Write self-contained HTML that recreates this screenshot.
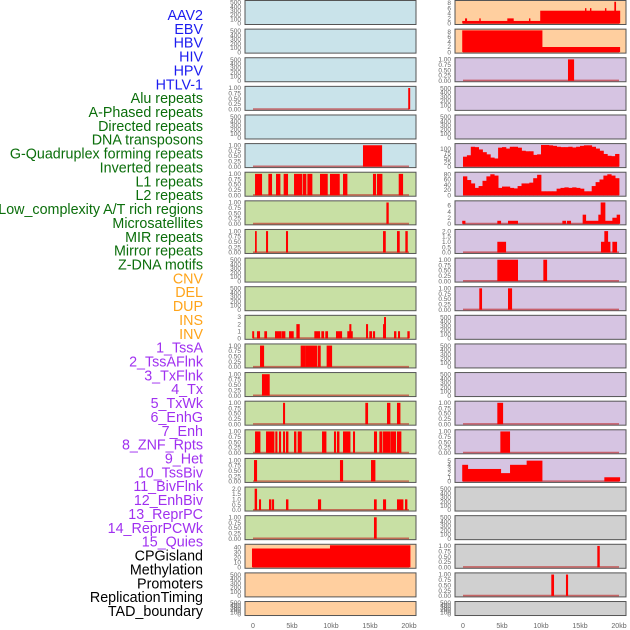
<!DOCTYPE html>
<html><head><meta charset="utf-8"><style>
html,body{margin:0;padding:0;background:#fff;width:630px;height:630px;overflow:hidden}
svg{display:block;font-family:"Liberation Sans",sans-serif}
</style></head><body>
<svg id="chart" width="630" height="630" viewBox="0 0 630 630" xmlns="http://www.w3.org/2000/svg"></svg>
<script>
const trackLabels = ["AAV2","EBV","HBV","HIV","HPV","HTLV-1","Alu repeats","A-Phased repeats","Directed repeats","DNA transposons","G-Quadruplex forming repeats","Inverted repeats","L1 repeats","L2 repeats","Low_complexity A/T rich regions","Microsatellites","MIR repeats","Mirror repeats","Z-DNA motifs","CNV","DEL","DUP","INS","INV","1_TssA","2_TssAFlnk","3_TxFlnk","4_Tx","5_TxWk","6_EnhG","7_Enh","8_ZNF_Rpts","9_Het","10_TssBiv","11_BivFlnk","12_EnhBiv","13_ReprPC","14_ReprPCWk","15_Quies","CPGisland","Methylation","Promoters","ReplicationTiming","TAD_boundary"];
const trackGroups = ["v","v","v","v","v","v","r","r","r","r","r","r","r","r","r","r","r","r","r","s","s","s","s","s","c","c","c","c","c","c","c","c","c","c","c","c","c","c","c","o","o","o","o","o"];
const xTicks = [0,5,10,15,20];
const xTickLabels = ["0","5kb","10kb","15kb","20kb"];
const E = [0,100,200,300,400,500], U = [0,0.25,0.5,0.75,1];
const leftBgs = ["b","b","b","b","b","b","g","g","g","g","g","g","g","g","g","g","g","g","g","o","o","o"];
const rightBgs = ["o","o","p","p","p","p","p","p","p","p","p","p","p","p","p","p","p","g2","g2","g2","g2","g2"];
const leftTicks = [E,E,E,U,E,U,U,U,U,E,E,[0,1,2,3],U,U,U,U,U,[0,0.5,1,1.5,2],U,[0,10,20,30,40],E,E];
const rightTicks = [[0,2,4,6,8],[0,2,4,6,8],U,E,E,[0,25,50,75,100],[0,20,40,60,80],[0,2,4,6],[0,0.5,1,1.5,2],U,U,E,E,E,U,U,[0,1,2,3,4,5],E,E,U,U,E];
const leftYmax = [520,520,520,1.03,520,1.03,1.03,1.03,1.03,520,520,3.1,1.03,1.03,1.03,1.03,1.03,2.06,1.03,44.5,520,520];
const rightYmax = [8.6,8.6,1.03,520,520,122,84,7.2,2.06,1.03,1.03,520,520,520,1.03,1.03,5.3,520,520,1.03,1.03,520];
const profile100 = [55,63,110,108,95,80,68,50,45,105,108,100,110,110,105,88,85,85,65,68,120,120,118,115,110,108,108,110,106,110,115,118,118,110,100,88,70,60,58,70];
const profile80 = [72,58,45,28,35,55,72,80,75,28,33,33,28,26,35,45,45,48,65,78,15,15,15,15,25,28,30,28,30,28,25,15,15,35,50,60,75,80,75,65];
const leftSegs = [
 [],[],[],
 [[19.9,20.1,1]],
 [],
 [[14.1,16.5,1]],
 [[0.26,1.11,1],[1.97,2.39,1],[2.95,3.46,1],[3.93,4.44,1],[5.26,6.28,1],[6.41,6.79,1],[6.97,7.56,1],[8.59,9.53,1],[9.87,11.07,1],[11.54,12.05,1],[15.38,15.73,1],[15.9,16.54,1],[18.68,19.19,1]],
 [[17.1,17.35,1]],
 [[0.26,0.43,1],[1.67,1.88,1],[4.23,4.44,1],[16.67,16.97,1],[18.46,18.76,1],[19.53,19.79,1]],
 [],[],
 [[-0.1,0.1,1],[0.51,0.85,1],[1.45,1.75,1],[2.82,3.59,1],[3.68,4.1,1],[4.62,5.17,1],[5.56,5.94,2],[7.86,8.55,1],[8.76,9.06,1],[9.27,9.57,1],[10.64,11.37,1],[12.09,12.35,1],[12.35,12.56,2],[12.56,12.74,1],[14.49,14.7,2],[14.91,15.21,1],[15.38,15.6,1],[16.67,16.84,2],[16.8,17.0,3],[18.08,18.33,1],[18.59,18.8,1],[19.79,20.04,1]],
 [[0.9,1.37,1],[6.11,6.71,1],[6.75,8.16,1],[8.29,8.63,1],[9.44,10.09,1]],
 [[1.15,2.09,1]],
 [[3.85,4.06,1],[14.4,14.7,1],[17.18,17.56,1],[18.46,18.85,1]],
 [[0.26,0.9,1],[1.67,2.69,1],[2.86,3.08,1],[3.33,3.55,1],[3.85,4.06,1],[4.23,4.49,1],[5.26,5.51,1],[5.73,6.2,1],[8.85,9.36,1],[10.38,10.6,1],[10.77,11.03,1],[11.54,12.44,1],[12.82,13.03,1],[15.51,15.85,1],[16.2,16.54,1],[16.67,17.61,1],[17.69,18.29,1],[18.46,18.97,1]],
 [[0.13,0.47,1],[11.15,11.5,1],[15.13,15.64,1]],
 [[0.21,0.47,2],[0.77,0.98,1],[2.05,2.31,1],[2.44,2.65,1],[4.23,4.49,1],[8.33,8.68,1],[15.51,15.81,1],[16.67,17.01,1],[18.46,19.23,1],[19.49,19.74,1]],
 [[15.51,15.81,1]],
 [[-0.13,9.87,38],[9.87,20.13,44.5]],
 [],[]
];
const rightSegs = [
 [[-0.1,9.9,1],[9.9,20.1,5],[0.26,0.47,2],[2.09,2.22,2],[5.68,6.45,2],[8.46,8.59,2],[15.64,15.77,6],[16.28,16.41,6],[18.2,18.33,6],[19.4,19.57,8.5]],
 [[-0.1,10.13,8.5],[10.13,20.09,2]],
 [[13.46,14.19,1]],
 [],[],
 profile100.map((v,i)=>[i*0.5,i*0.5+0.5,v]),
 profile80.map((v,i)=>[i*0.5,i*0.5+0.5,v]),
 [[-0.1,0.26,1],[4.4,4.83,1],[5.77,7.0,1],[12.74,13.16,1],[13.33,13.8,1],[15.34,15.73,3],[15.73,17.35,1],[17.35,17.65,3],[17.65,18.2,7],[18.2,19.15,1],[19.15,19.7,2],[19.7,20.09,3]],
 [[4.4,5.47,1],[17.69,18.12,1],[18.12,18.55,2],[18.55,18.85,1],[19.15,19.7,1]],
 [[4.4,7.0,1],[10.3,10.73,1]],
 [[2.09,2.39,1],[5.77,6.24,1]],
 [],[],[],
 [[4.4,5.09,1]],
 [[4.79,5.98,1]],
 [[-0.1,0.6,4],[0.6,4.83,3],[4.83,6.03,2],[6.03,8.16,4],[8.16,10.13,5],[18.12,20.09,1]],
 [],[],
 [[17.22,17.48,1]],
 [[11.32,11.62,1],[13.2,13.42,1]],
 []
];
const BG = {b:"#c9e3ea",g:"#c8e0a4",o:"#ffcf9f",p:"#d6c4e2",g2:"#d0d0d0"};
const TXT = {v:"#1c1cf0",r:"#0b6e0b",s:"#ffa41a",c:"#a030f0",o:"#000"};
const NS = "http://www.w3.org/2000/svg";
const svg = document.getElementById("chart");
function mk(tag, attrs, parent){const e=document.createElementNS(NS,tag);for(const k in attrs)e.setAttribute(k,attrs[k]);(parent||svg).appendChild(e);return e;}

trackLabels.forEach((t,i)=>{
  const e = mk("text",{x:203,y:15+13.86*i+5,"text-anchor":"end","font-size":"14.3",fill:TXT[trackGroups[i]]});
  e.textContent = t;
  
  
});

function fmt(v,ticks){const mx=Math.max(...ticks);if(mx<=1)return v.toFixed(2);if(ticks.some(t=>t%1))return v.toFixed(1);return String(v);}

function drawCol(x0, x1, zeroX, bgs, ticks, ymaxs, segs, colName){
  const xs = kb => zeroX + kb*7.8;
  for(let i=0;i<22;i++){
    const top = 28.62*i, h = i===21?15:25;
    const g = mk("g",{});
    
    
    mk("rect",{x:x0,y:top+0.5,width:x1-x0,height:h-1,fill:BG[bgs[i]],stroke:"#555","stroke-width":1},g);
    const ymax = ymaxs[i];
    const ys = v => top + h - 1.5 - (v/ymax)*(h-3);
    ticks[i].forEach(t=>{
      const tx = mk("text",{x:x0-4,y:ys(t)+2.2,"text-anchor":"end","font-size":"6.5",fill:"#666"},g);
      tx.textContent = fmt(t,ticks[i]);
      
      
    });
    const s = segs[i];
    if(s.length){
      mk("line",{x1:xs(0),x2:xs(20),y1:ys(0)-0.3,y2:ys(0)-0.3,stroke:"rgba(190,30,30,0.6)","stroke-width":1.6},g);
      s.forEach(d=>{
        const yv = Math.min(d[2],ymax);
        const r = mk("rect",{x:xs(d[0]),y:ys(yv),width:Math.max(0.8,xs(d[1])-xs(d[0])+0.4),height:ys(0)-ys(yv),fill:"#ff0000"},g);
        
        
      });
    }
  }
  xTicks.forEach((t,j)=>{
    const tx = mk("text",{x:xs(t),y:628,"text-anchor":"middle","font-size":"7",fill:"#666"});
    tx.textContent = xTickLabels[j];
    
    
  });
}
drawCol(245,416,253,leftBgs,leftTicks,leftYmax,leftSegs,'left');
drawCol(455,626,463,rightBgs,rightTicks,rightYmax,rightSegs,'right');
</script>
</body></html>
